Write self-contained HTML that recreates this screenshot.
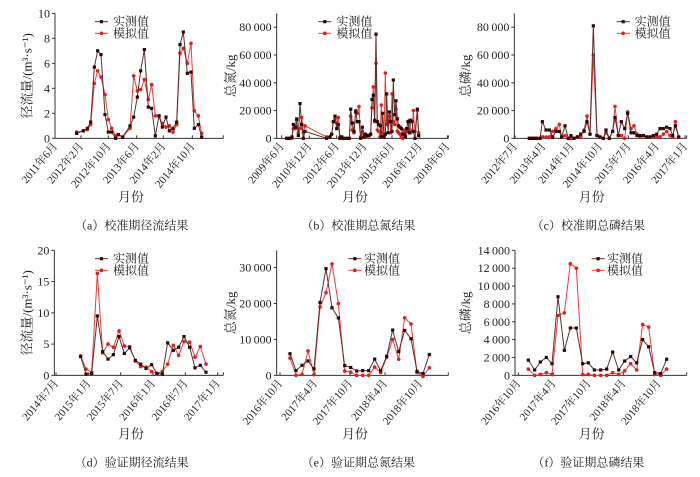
<!DOCTYPE html>
<html><head><meta charset="utf-8"><style>
html,body{margin:0;padding:0;background:#fff;}
svg{display:block;}
text{font-family:"Liberation Serif","Noto Serif CJK SC",serif;fill:#222;}
</style></head><body>
<svg id="s" width="700" height="477" xmlns="http://www.w3.org/2000/svg"></svg>
<script>
var S=document.getElementById('s'),NS='http://www.w3.org/2000/svg';
function el(t,a,txt){var e=document.createElementNS(NS,t);for(var k in a)e.setAttribute(k,a[k]);if(txt!=null)e.textContent=txt;S.appendChild(e);return e;}
var P=[
{ox:0,oy:0,ax:165,ae:670,y0:415,yt:40,max:10,step:2,fmt:function(v){return v},ticks:[165,243,325,410,490,577],tl:['2011年6月','2012年2月','2012年10月','2013年6月','2014年2月','2014年10月'],yl:'径流量/(m³·s⁻¹)',ylx:95,lg:[285,345],m:[[230,.4],[250,.6],[262,.8],[272,1.3],[283,5.7],[293,7],[303,6.7],[315,1.9],[325,.5],[335,.5],[347,0],[355,.3],[368,.1],[390,1],[401,1.7],[412,3.3],[422,5.4],[433,7.1],[445,2.5],[455,2.4],[466,.2],[477,1.8],[487,.9],[498,1.7],[508,.6],[519,.8],[530,1.3],[540,7.5],[550,8.5],[562,5.2],[573,5.3],[583,.8],[595,1.1],[605,.1]],
s:[[230,.5],[250,.6],[262,.7],[272,1.1],[283,4.4],[293,5.4],[303,4.9],[315,3.5],[325,1.5],[335,.8],[347,.2],[355,.3],[368,.1],[390,.8],[401,5],[412,3.8],[422,3.9],[433,4.7],[445,3.1],[455,4.3],[466,1.8],[477,1.8],[487,1.2],[498,.9],[508,1],[519,.5],[530,1.1],[540,6.8],[550,7.2],[562,6],[573,7.6],[583,2.2],[595,1.8],[605,.4]],cap:'（a）校准期径流结果',capx:395,xt:393},
{ox:230,oy:0,ax:140,ae:655,y0:415,yt:40,max:90000,step:20000,ymax:80000,ticks:[155,238,320,403,486,569,652],tl:['2009年6月','2010年12月','2012年6月','2013年12月','2015年6月','2016年12月','2018年6月'],yl:'总氮/kg',ylx:15,lg:[265,325],
m:[[170,0],[178,0],[186,1],[190,10],[196,8],[200,14],[205,2],[210,25],[215,10],[220,0],[225,5],[290,0],[300,1],[305,3],[310,12],[315,16],[320,7],[325,10],[330,0],[335,1],[340,0],[350,0],[358,0],[362,21],[367,11],[372,5],[377,19],[382,12],[387,12],[392,0],[397,8],[402,1],[407,3],[412,2],[417,2],[422,3],[426,28],[430,31],[434,13],[438,75],[442,12],[446,10],[450,9],[454,1],[458,18],[462,1],[466,3],[470,32],[474,4],[478,19],[482,12],[486,5],[490,42],[494,17],[498,27],[502,14],[506,9],[510,8],[514,7],[518,3],[522,3],[526,1],[530,7],[534,12],[538,4],[542,13],[546,12],[550,5],[555,0],[562,21],[566,2]],
s:[[170,0],[178,0],[186,0],[190,7],[196,7],[200,13],[205,4],[210,7],[215,15],[220,4],[225,9],[290,1],[300,1],[305,3],[310,12],[315,14],[320,11],[325,15],[330,1],[335,1],[340,0],[350,0],[358,0],[362,16],[367,6],[372,4],[377,20],[382,18],[387,23],[392,1],[397,5],[402,3],[407,2],[412,1],[417,2],[422,3],[426,22],[430,37],[434,12],[438,54],[442,6],[446,5],[450,1],[454,24],[458,3],[462,1],[466,47],[470,10],[474,12],[478,16],[482,4],[486,32],[490,12],[494,10],[498,21],[502,5],[506,4],[510,3],[514,1],[518,0],[522,6],[526,2],[530,5],[534,5],[538,13],[542,4],[546,5],[550,20],[555,5],[562,20],[566,4]],k:1000,cap:'（b）校准期总氮结果',capx:385,xt:375},
{ox:460,oy:0,ax:163,ae:680,y0:415,yt:40,max:90000,step:20000,ymax:80000,ticks:[165,250,335,420,505,590,675],tl:['2012年7月','2013年4月','2014年1月','2014年10月','2015年7月','2016年4月','2017年1月'],yl:'总磷/kg',ylx:30,lg:[470,530],
m:[[208,0],[215,0],[222,0],[230,0],[240,0],[247,12],[258,6],[268,6],[278,1],[288,5],[298,5],[305,1],[315,9],[325,0],[333,2],[342,0],[352,1],[362,3],[372,5],[381,12],[390,3],[400,81],[411,2],[420,1],[430,0],[438,6],[448,0],[458,5],[465,15],[475,2],[484,12],[494,7],[503,18],[513,4],[522,4],[531,2],[540,2],[550,2],[560,1],[570,1],[580,2],[590,3],[600,7],[610,7],[620,8],[630,7],[638,2],[646,9],[656,1]],
s:[[208,0],[215,0],[222,0],[230,0],[240,0],[247,1],[258,1],[268,1],[278,5],[288,7],[298,10],[305,1],[315,2],[325,0],[333,0],[342,0],[352,1],[362,1],[372,6],[381,16],[390,3],[400,60],[411,2],[420,1],[430,0],[438,4],[448,0],[458,5],[465,23],[475,2],[484,2],[494,0],[503,19],[513,7],[522,9],[531,3],[540,1],[550,2],[560,1],[570,1],[580,1],[590,1],[600,1],[610,3],[620,5],[630,2],[638,1],[646,12],[656,1]],k:1000,cap:'（c）校准期总磷结果',capx:385,xt:395},
{ox:0,oy:237,ax:163,ae:670,y0:415,yt:40,max:20,step:5,ticks:[168,265,362,459,556,653],tl:['2014年7月','2015年1月','2015年7月','2016年1月','2016年7月','2017年1月'],yl:'径流量/(m³·s⁻¹)',ylx:95,lg:[285,345],
m:[[242,3],[258,.2],[275,.3],[292,9.5],[308,3.8],[324,2.6],[340,3.3],[357,6.2],[373,3.5],[389,4.4],[406,2.4],[422,1.8],[438,1.1],[455,1.7],[471,.3],[487,.2],[503,5.2],[520,4],[536,4.5],[552,6.2],[569,4.5],[585,1.2],[601,1.6],[618,.5]],
s:[[242,3.1],[258,1],[275,.5],[292,16.3],[308,3.6],[324,5],[340,4.5],[357,7.1],[373,4.7],[389,4.6],[406,2.3],[422,1.4],[438,1.3],[455,.6],[471,.3],[487,.6],[503,1.8],[520,4.8],[536,3.2],[552,5.4],[569,5.3],[585,2.9],[601,4.6],[618,1.8]],cap:'（d）验证期径流结果',capx:395,xt:393},
{ox:230,oy:237,ax:140,ae:655,y0:415,yt:40,max:34800,step:10000,ymax:30000,ticks:[150,255,360,465,570],tl:['2016年10月','2017年4月','2017年10月','2018年4月','2018年10月'],yl:'总氮/kg',ylx:15,lg:[355,408],
m:[[180,6],[198,1.3],[216,2.8],[234,4],[252,1.8],[270,20.3],[288,29.7],[306,18.8],[325,16],[344,2.7],[362,2.2],[380,1.2],[398,1.3],[416,1.3],[434,4.5],[452,1.3],[470,5.3],[488,12.6],[506,6.6],[524,12.5],[543,10.2],[561,1.1],[579,.5],[598,5.8]],
s:[[180,4.8],[198,0],[216,.3],[234,6.8],[252,.2],[270,19],[288,23],[306,31],[325,20],[344,1.2],[362,.9],[380,0],[398,0],[416,0],[434,2.3],[452,.8],[470,5],[488,10],[506,4.5],[524,16],[543,14.3],[561,.8],[579,-.3],[598,2.1]],k:1000,cap:'（e）验证期总氮结果',capx:385,xt:375},
{ox:460,oy:237,ax:165,ae:680,y0:415,yt:40,max:14000,step:2000,ticks:[175,280,385,490,595],tl:['2016年10月','2017年4月','2017年10月','2018年4月','2018年10月'],yl:'总磷/kg',ylx:30,lg:[395,447],
m:[[205,1.7],[224,.6],[241,1.5],[259,2],[276,1.3],[294,8.8],[313,2.8],[331,5.3],[349,5.3],[368,1.3],[385,1.4],[403,.6],[422,.6],[440,.7],[458,2.6],[476,.6],[494,1.6],[512,2.1],[530,1.4],[548,4],[566,3.2],[584,.3],[602,.2],[620,1.8]],
s:[[205,.7],[224,0],[241,.1],[259,.3],[276,.1],[294,6.7],[313,7],[331,12.5],[349,12],[368,.1],[385,.1],[403,0],[422,0],[440,0],[458,.3],[476,.1],[494,.5],[512,1.3],[530,.6],[548,5.7],[566,5.4],[584,.1],[602,0],[620,.7]],k:1000,cap:'（f）验证期总磷结果',capx:385,xt:395}
];
function fmt(v){if(v<1000)return ''+v;var s=''+v;return s.slice(0,s.length-3)+'\u2009'+s.slice(-3);}
P.forEach(function(p){
 var X=function(z){return p.ox+z/3},Y=function(z){return p.oy+z/3};
 var ax=X(p.ax),ae=X(p.ae),y0=Y(p.y0),yt=Y(p.yt);
 var kk=p.k||1;
 var vy=function(v){return y0-(v*kk)/p.max*(y0-yt);};
 el('line',{x1:ax,y1:yt,x2:ax,y2:y0,stroke:'#333','stroke-width':1});
 el('line',{x1:ax,y1:y0,x2:ae,y2:y0,stroke:'#333','stroke-width':1});
 el('line',{x1:ae,y1:y0,x2:ae,y2:y0-3,stroke:'#333','stroke-width':1});
 var ym=p.ymax||p.max;
 for(var v=0;v<=ym+1e-9;v+=p.step){var y=vy(v/kk);
  el('line',{x1:ax-3,y1:y,x2:ax,y2:y,stroke:'#333','stroke-width':1});
  el('text',{x:ax-5,y:y+4,'text-anchor':'end','font-size':12},fmt(v));}
 p.ticks.forEach(function(t,i){var x=X(t);
  el('line',{x1:x,y1:y0,x2:x,y2:y0-3,stroke:'#333','stroke-width':1});
  el('text',{x:x+3,y:y0+8,'text-anchor':'end','font-size':11,transform:'rotate(-50 '+(x+3)+' '+(y0+8)+')'},p.tl[i]);});
 var cy=(yt+y0)/2;
 el('text',{x:X(p.ylx),y:cy,'text-anchor':'middle','font-size':13,transform:'rotate(-90 '+X(p.ylx)+' '+cy+')'},p.yl);
 el('text',{x:X(p.xt),y:Y(605),'text-anchor':'middle','font-size':13},'月份');
 el('text',{x:X(p.capx),y:Y(688),'text-anchor':'middle','font-size':12,fill:'#333'},p.cap);
 function ser(d,lc,mc,sq){
  el('polyline',{points:d.map(function(q){return X(q[0])+','+vy(q[1])}).join(' '),fill:'none',stroke:lc,'stroke-width':1});
  d.forEach(function(q){var x=X(q[0]),y=vy(q[1]);
   if(sq)el('rect',{x:x-1.6,y:y-1.6,width:3.2,height:3.2,fill:mc});else el('circle',{cx:x,cy:y,r:1.8,fill:mc});});
 }
 ser(p.s,'#e8403a','#e02020',false);
 ser(p.m,'#5a3030','#2a0808',true);
 var l0=X(p.lg[0]),tx=X(p.lg[1]);
 [[Y(65),'#5a3030','#2a0808',true,'实测值'],[Y(100),'#e8403a','#e02020',false,'模拟值']].forEach(function(r){
  el('line',{x1:l0,y1:r[0],x2:l0+13,y2:r[0],stroke:r[1],'stroke-width':1});
  var mx=l0+6.5;
  if(r[3])el('rect',{x:mx-1.6,y:r[0]-1.6,width:3.2,height:3.2,fill:r[2]});else el('circle',{cx:mx,cy:r[0],r:1.8,fill:r[2]});
  el('text',{x:tx-2,y:r[0]+4,'font-size':12},r[4]);});
});
</script>
</body></html>
